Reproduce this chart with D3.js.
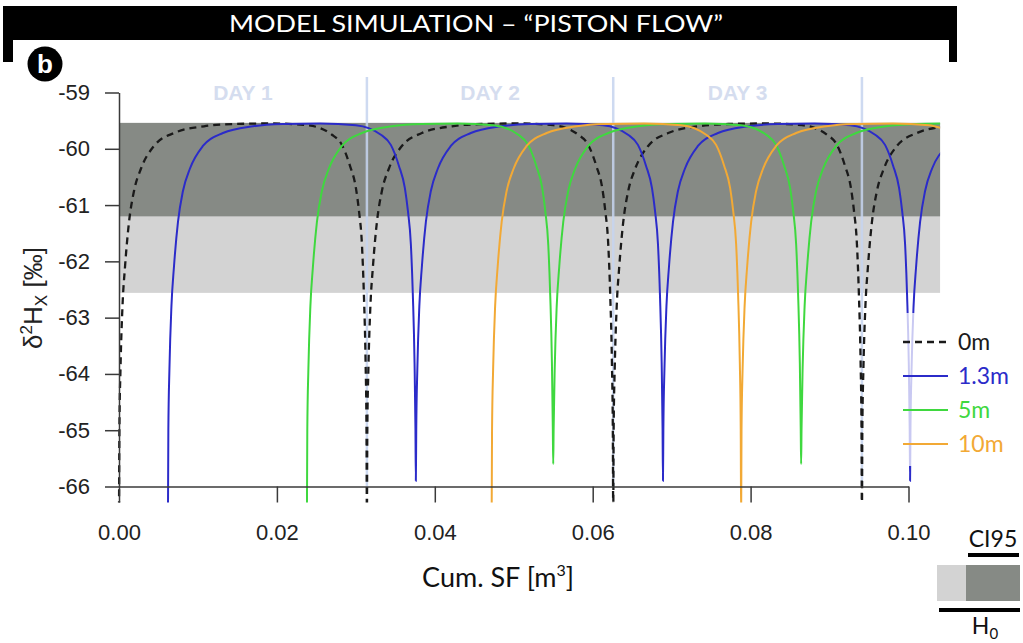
<!DOCTYPE html>
<html>
<head>
<meta charset="utf-8">
<script src="https://cdn.jsdelivr.net/npm/d3@7"></script>
<style>
  body { margin: 0; background: #fff; }
  svg { display: block; }
</style>
</head>
<body>
<div id="chart-area"></div>
<script>
// values: x = cumulative SF [m3], y = d2H [permil]
const xTicks = [0, 0.02, 0.04, 0.06, 0.08, 0.10];
const yTicks = [-59, -60, -61, -62, -63, -64, -65, -66];

const h0Band = [-59.54, -62.56];
const ciBand = [-59.54, -61.2];

const dayBounds = [0, 0.0314, 0.0626, 0.0941];
const dayLabels = ["DAY 1", "DAY 2", "DAY 3"];

const seriesNames = ["0m", "1.3m", "5m", "10m"];

const line0m = [
  [0, -66.6], [0.00005, -65.0], [0.00019, -63.9], [0.00044, -62.8], [0.00076, -62.1], [0.00127, -61.3],
  [0.0019, -60.75], [0.00279, -60.35], [0.00443, -59.95], [0.00697, -59.72], [0.01077, -59.6], [0.01457, -59.56],
  [0.0193, -59.55],
  [0.0238, -59.58], [0.02697, -59.75], [0.02823, -59.93], [0.02925, -60.3], [0.03001, -60.7], [0.03039, -61.1],
  [0.03077, -61.7], [0.03102, -62.6], [0.031235, -63.8], [0.03135, -65.0], [0.0314, -66.6],
  [0.03145, -65.0], [0.03159, -63.9], [0.03184, -62.8], [0.03216, -62.1], [0.03267, -61.3], [0.0333, -60.75],
  [0.03419, -60.35], [0.03583, -59.95], [0.03837, -59.72], [0.04217, -59.6], [0.04597, -59.56],
  [0.0505, -59.55],
  [0.055, -59.58], [0.05817, -59.75], [0.05943, -59.93], [0.06045, -60.3], [0.06121, -60.7], [0.06159, -61.1],
  [0.06197, -61.7], [0.06222, -62.6], [0.062435, -63.8], [0.06255, -65.0], [0.0626, -66.6],
  [0.06265, -65.0], [0.06279, -63.9], [0.06304, -62.8], [0.06336, -62.1], [0.06387, -61.3], [0.0645, -60.75],
  [0.06539, -60.35], [0.06703, -59.95], [0.06957, -59.72], [0.07337, -59.6], [0.07717, -59.56],
  [0.0819, -59.55],
  [0.0865, -59.58], [0.08967, -59.75], [0.09093, -59.93], [0.09195, -60.3], [0.09271, -60.7], [0.09309, -61.1],
  [0.09347, -61.7], [0.09372, -62.6], [0.093935, -63.8], [0.09405, -65.0], [0.0941, -66.6],
  [0.09415, -65.0], [0.09429, -63.9], [0.09454, -62.8], [0.09486, -62.1], [0.09537, -61.3], [0.096, -60.75],
  [0.09689, -60.35], [0.09853, -59.95], [0.10107, -59.72], [0.10487, -59.6]
];

const line13m = [
  [0.0062, -66.6], [0.00625, -65.0], [0.00639, -63.9], [0.00664, -62.8], [0.00696, -62.1], [0.00747, -61.3],
  [0.0081, -60.75], [0.00899, -60.35], [0.01063, -59.95], [0.01317, -59.72], [0.01697, -59.6], [0.02077, -59.56],
  [0.0255, -59.55],
  [0.03, -59.58], [0.03317, -59.75], [0.03443, -59.93], [0.03545, -60.3], [0.03621, -60.7], [0.03659, -61.1],
  [0.03697, -61.7], [0.03722, -62.6], [0.037435, -63.8], [0.03755, -65.0], [0.0376, -65.9],
  [0.03765, -65.0], [0.03779, -63.9], [0.03804, -62.8], [0.03836, -62.1], [0.03887, -61.3], [0.0395, -60.75],
  [0.04039, -60.35], [0.04203, -59.95], [0.04457, -59.72], [0.04837, -59.6], [0.05217, -59.56],
  [0.0567, -59.55],
  [0.0613, -59.58], [0.06447, -59.75], [0.06573, -59.93], [0.06675, -60.3], [0.06751, -60.7], [0.06789, -61.1],
  [0.06827, -61.7], [0.06852, -62.6], [0.068735, -63.8], [0.06885, -65.0], [0.0689, -65.9],
  [0.06895, -65.0], [0.06909, -63.9], [0.06934, -62.8], [0.06966, -62.1], [0.07017, -61.3], [0.0708, -60.75],
  [0.07169, -60.35], [0.07333, -59.95], [0.07587, -59.72], [0.07967, -59.6], [0.08347, -59.56],
  [0.0881, -59.55],
  [0.0926, -59.58], [0.09577, -59.75], [0.09703, -59.93], [0.09805, -60.3], [0.09881, -60.7], [0.09919, -61.1],
  [0.09957, -61.7], [0.09982, -62.6], [0.100035, -63.8], [0.10015, -65.0], [0.1002, -65.9],
  [0.10025, -65.0], [0.10039, -63.9], [0.10064, -62.8], [0.10096, -62.1], [0.10147, -61.3], [0.1021, -60.75],
  [0.10299, -60.35], [0.10463, -60.0]
];

const line5m = [
  [0.0238, -66.6], [0.02385, -65.0], [0.02399, -63.9], [0.02424, -62.8], [0.02456, -62.1], [0.02507, -61.3],
  [0.0257, -60.75], [0.02659, -60.35], [0.02823, -59.95], [0.03077, -59.72], [0.03457, -59.6], [0.03837, -59.56],
  [0.0429, -59.55],
  [0.0474, -59.58], [0.05057, -59.75], [0.05183, -59.93], [0.05285, -60.3], [0.05361, -60.7], [0.05399, -61.1],
  [0.05437, -61.7], [0.05462, -62.6], [0.054835, -63.8], [0.05495, -65.0], [0.055, -65.6],
  [0.05505, -65.0], [0.05519, -63.9], [0.05544, -62.8], [0.05576, -62.1], [0.05627, -61.3], [0.0569, -60.75],
  [0.05779, -60.35], [0.05943, -59.95], [0.06197, -59.72], [0.06577, -59.6], [0.06957, -59.56],
  [0.0742, -59.55],
  [0.0788, -59.58], [0.08197, -59.75], [0.08323, -59.93], [0.08425, -60.3], [0.08501, -60.7], [0.08539, -61.1],
  [0.08577, -61.7], [0.08602, -62.6], [0.086235, -63.8], [0.08635, -65.0], [0.0864, -65.6],
  [0.08645, -65.0], [0.08659, -63.9], [0.08684, -62.8], [0.08716, -62.1], [0.08767, -61.3], [0.0883, -60.75],
  [0.08919, -60.35], [0.09083, -59.95], [0.09337, -59.72], [0.09717, -59.6], [0.10097, -59.56], [0.1045, -59.55]
];

const line10m = [
  [0.0472, -66.6], [0.04725, -65.0], [0.04739, -63.9], [0.04764, -62.8], [0.04796, -62.1], [0.04847, -61.3],
  [0.0491, -60.75], [0.04999, -60.35], [0.05163, -59.95], [0.05417, -59.72], [0.05797, -59.6], [0.06177, -59.56],
  [0.0665, -59.55],
  [0.0712, -59.58], [0.07437, -59.75], [0.07563, -59.93], [0.07665, -60.3], [0.07741, -60.7], [0.07779, -61.1],
  [0.07817, -61.7], [0.07842, -62.6], [0.078635, -63.8], [0.07875, -65.0], [0.0788, -66.6],
  [0.07885, -65.0], [0.07899, -63.9], [0.07924, -62.8], [0.07956, -62.1], [0.08007, -61.3], [0.0807, -60.75],
  [0.08159, -60.35], [0.08323, -59.95], [0.08577, -59.72], [0.08957, -59.6], [0.09337, -59.56],
  [0.098, -59.55],
  [0.1026, -59.58], [0.1045, -59.65]
];

const seriesData = [line0m, line13m, line5m, line10m];
const seriesColors = ["#1a1a1a", "#2b2bc9", "#3fd83f", "#f2a935"];
const seriesWidths = [2.3, 2, 2, 2];
const seriesDash = ["7,5", null, null, null];

const chartWidth = 1023;
const chartHeight = 643;
const xMax = 0.104;

const svg = d3.select("#chart-area").append("svg")
  .attr("width", chartWidth)
  .attr("height", chartHeight);

const x = d3.scaleLinear().domain([0, 0.1]).range([119, 908.5]);
const y = d3.scaleLinear().domain([-66, -59]).range([486.5, 92.5]);

const sans = "'Liberation Sans', Arial, sans-serif";
const calib = "Lato, 'Open Sans', sans-serif";

// title bar
svg.append("path")
  .attr("d", "M3,6H957V62H949V40H13V62H3Z")
  .attr("fill", "#000");
svg.append("text")
  .attr("x", 476).attr("y", 32)
  .attr("text-anchor", "middle")
  .attr("font-family", calib)
  .attr("font-size", 24)
  .attr("fill", "#fff")
  .attr("textLength", 494)
  .attr("lengthAdjust", "spacingAndGlyphs")
  .text("MODEL SIMULATION \u2013 \u201CPISTON FLOW\u201D");

// panel letter
svg.append("circle").attr("cx", 45).attr("cy", 64).attr("r", 17.5).attr("fill", "#000");
svg.append("text")
  .attr("x", 45).attr("y", 73)
  .attr("text-anchor", "middle")
  .attr("font-family", sans)
  .attr("font-weight", "bold")
  .attr("font-size", 26)
  .attr("fill", "#fff")
  .text("b");

// bands
svg.append("rect")
  .attr("x", x(0)).attr("width", x(xMax) - x(0))
  .attr("y", y(h0Band[0])).attr("height", y(h0Band[1]) - y(h0Band[0]))
  .attr("fill", "#d3d3d3");
svg.append("rect")
  .attr("x", x(0)).attr("width", x(xMax) - x(0))
  .attr("y", y(ciBand[0])).attr("height", y(ciBand[1]) - y(ciBand[0]))
  .attr("fill", "#868a85");

// day separators and labels
svg.selectAll(".day-line").data(dayBounds.slice(1)).enter().append("line")
  .attr("class", "day-line")
  .attr("x1", d => x(d)).attr("x2", d => x(d))
  .attr("y1", 77).attr("y2", y(-66))
  .attr("stroke", "#c6d3ef")
  .attr("stroke-opacity", 0.85)
  .attr("stroke-width", 2.5);

svg.selectAll(".day-label").data(dayLabels).enter().append("text")
  .attr("class", "day-label")
  .attr("x", (d, i) => x((dayBounds[i] + dayBounds[i + 1]) / 2))
  .attr("y", 100)
  .attr("text-anchor", "middle")
  .attr("font-family", sans)
  .attr("font-weight", "bold")
  .attr("font-size", 21)
  .attr("fill", "#d5ddef")
  .text(d => d);

// curves
svg.append("clipPath").attr("id", "plot-clip")
  .append("rect")
  .attr("x", x(0) - 2).attr("y", 85)
  .attr("width", x(xMax) - x(0) + 2)
  .attr("height", 502.5 - 85);

const lineGen = d3.line()
  .x(d => x(d[0]))
  .y(d => y(d[1]))
  .curve(d3.curveMonotoneX);

svg.append("g").attr("clip-path", "url(#plot-clip)")
  .selectAll("path").data(seriesData).enter().append("path")
  .attr("d", d => lineGen(d))
  .attr("fill", "none")
  .attr("stroke", (d, i) => seriesColors[i])
  .attr("stroke-width", (d, i) => seriesWidths[i])
  .attr("stroke-dasharray", (d, i) => seriesDash[i]);

// axes
svg.append("g")
  .attr("class", "y-axis")
  .attr("transform", `translate(${x(0)}, 0)`)
  .call(d3.axisLeft(y).tickValues(yTicks).tickFormat(d => String(d)).tickSize(14).tickPadding(15).tickSizeOuter(0));

svg.append("g")
  .attr("class", "x-axis")
  .attr("transform", `translate(0, ${y(-66)})`)
  .call(d3.axisBottom(x).tickValues(xTicks).tickFormat(d3.format(".2f")).tickSize(16).tickPadding(22).tickSizeOuter(0));

svg.selectAll(".y-axis, .x-axis").selectAll("path, line")
  .attr("stroke", "#3a3a3a").attr("stroke-width", 1.5);
svg.selectAll(".y-axis, .x-axis").selectAll("text")
  .attr("font-family", sans).attr("font-size", 22).attr("fill", "#222");

// axis titles
const yLabel = svg.append("text")
  .attr("transform", "translate(42, 298) rotate(-90)")
  .attr("text-anchor", "middle")
  .attr("font-family", sans)
  .attr("font-size", 26)
  .attr("fill", "#222");
yLabel.append("tspan").text("\u03B4");
yLabel.append("tspan").attr("font-size", 17).attr("dy", -10).text("2");
yLabel.append("tspan").attr("dy", 10).text("H");
yLabel.append("tspan").attr("font-size", 17).attr("dy", 5).text("X");
yLabel.append("tspan").attr("dy", -5).text(" [\u2030]");

const xLabel = svg.append("text")
  .attr("x", 498).attr("y", 587)
  .attr("text-anchor", "middle")
  .attr("font-family", calib)
  .attr("font-size", 27)
  .attr("fill", "#111");
xLabel.append("tspan").text("Cum. SF [m");
xLabel.append("tspan").attr("font-size", 16).attr("dy", -11).text("3");
xLabel.append("tspan").attr("dy", 11).text("]");

// series legend
svg.append("rect")
  .attr("x", 895).attr("y", 313)
  .attr("width", 125).attr("height", 153)
  .attr("fill", "#fff").attr("fill-opacity", 0.75);

const legend = svg.selectAll(".legend-item").data(seriesNames).enter().append("g")
  .attr("class", "legend-item")
  .attr("transform", (d, i) => `translate(903, ${342 + i * 34})`);
legend.append("line")
  .attr("x1", 0).attr("x2", 45)
  .attr("stroke", (d, i) => seriesColors[i])
  .attr("stroke-width", (d, i) => seriesWidths[i])
  .attr("stroke-dasharray", (d, i) => seriesDash[i]);
legend.append("text")
  .attr("x", 55).attr("dy", "0.36em")
  .attr("font-family", calib)
  .attr("font-size", 23)
  .attr("fill", (d, i) => seriesColors[i])
  .text(d => d);

// band legend
svg.append("text")
  .attr("x", 993).attr("y", 547)
  .attr("text-anchor", "middle")
  .attr("font-family", calib).attr("font-size", 23).attr("fill", "#111")
  .text("CI95");
svg.append("rect").attr("x", 968).attr("y", 553).attr("width", 51).attr("height", 4).attr("fill", "#000");
svg.append("rect").attr("x", 937).attr("y", 565).attr("width", 30).attr("height", 36).attr("fill", "#d3d3d3");
svg.append("rect").attr("x", 966).attr("y", 565).attr("width", 54).attr("height", 36).attr("fill", "#868a85");
svg.append("rect").attr("x", 939).attr("y", 608).attr("width", 81).attr("height", 4).attr("fill", "#000");
const h0 = svg.append("text")
  .attr("x", 985).attr("y", 634)
  .attr("text-anchor", "middle")
  .attr("font-family", calib).attr("font-size", 23).attr("fill", "#111");
h0.append("tspan").text("H");
h0.append("tspan").attr("font-size", 15).attr("dy", 5).text("0");
</script>
</body>
</html>
